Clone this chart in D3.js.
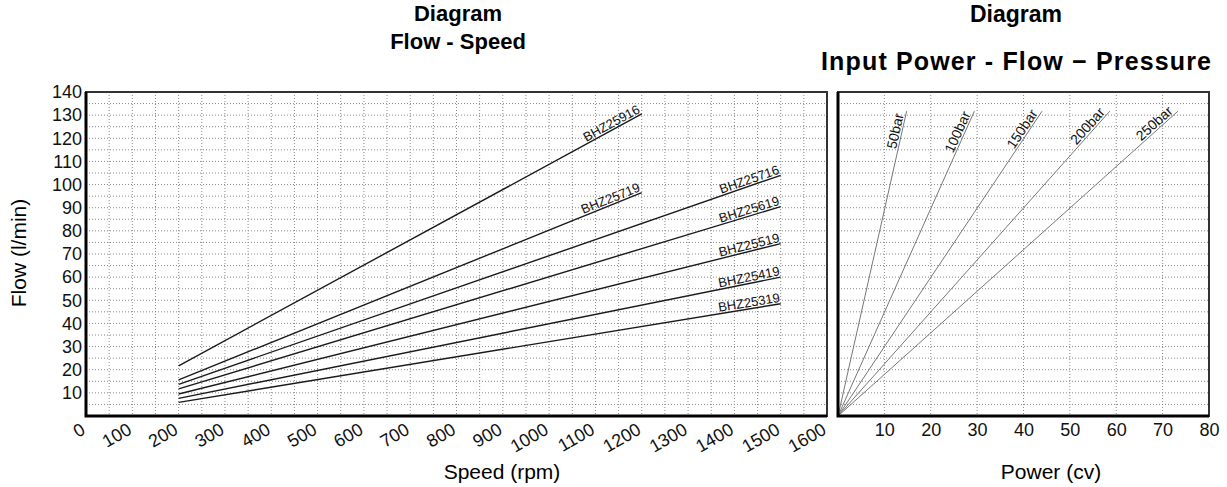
<!DOCTYPE html>
<html>
<head>
<meta charset="utf-8">
<script src="https://cdn.jsdelivr.net/npm/d3@7"></script>
<style>
body { margin: 0; background: #fff; }
svg { font-family: Arial, "Liberation Sans", sans-serif; }
.grid line { stroke: #8a8a8a; stroke-width: 1; stroke-dasharray: 1,2; }
.axis path, .axis line { display: none; }
</style>
</head>
<body>
<script>
// tick labels
var speedTicks = [0, 100, 200, 300, 400, 500, 600, 700, 800, 900, 1000, 1100, 1200, 1300, 1400, 1500, 1600];
var flowTicks = [10, 20, 30, 40, 50, 60, 70, 80, 90, 100, 110, 120, 130, 140];
var powerTicks = [10, 20, 30, 40, 50, 60, 70, 80];

// flow - speed curves (start / end points)
var pumpModels = ["BHZ25916", "BHZ25719", "BHZ25716", "BHZ25619", "BHZ25519", "BHZ25419", "BHZ25319"];
var pumpSpeeds = [[200, 1200], [200, 1200], [200, 1500], [200, 1500], [200, 1500], [200, 1500], [200, 1500]];
var pumpFlows = [[21.7, 130.5], [15.6, 96.5], [13.7, 104], [11.7, 90.5], [9.5, 74.5], [7.6, 60], [5.9, 48.5]];

// power - flow lines per pressure (from origin)
var pressureLabels = ["50bar", "100bar", "150bar", "200bar", "250bar"];
var pressurePower = [[0, 14.8], [0, 29.4], [0, 44.0], [0, 58.6], [0, 73.3]];
var pressureFlow = [[0, 131.7], [0, 131.7], [0, 131.7], [0, 131.7], [0, 131.7]];

var W = 1227, H = 487;
var plotTop = 92, plotBottom = 416;

var svg = d3.select("body").append("svg")
    .attr("width", W)
    .attr("height", H);

// scales
var x = d3.scaleLinear().domain([0, 1600]).range([86, 827]);
var y = d3.scaleLinear().domain([0, 140]).range([plotBottom, plotTop]);
var x2 = d3.scaleLinear().domain([0, 80]).range([838, 1209]);

// ---- left panel grid
var g1 = svg.append("g").attr("class", "grid");
g1.selectAll("line.v").data(d3.range(50, 1600, 50)).enter().append("line")
    .attr("class", "v")
    .attr("x1", function (d) { return x(d); }).attr("x2", function (d) { return x(d); })
    .attr("y1", plotTop).attr("y2", plotBottom);
g1.selectAll("line.h").data(d3.range(5, 140, 5)).enter().append("line")
    .attr("class", "h")
    .attr("x1", x(0)).attr("x2", x(1600))
    .attr("y1", function (d) { return y(d); }).attr("y2", function (d) { return y(d); });

// ---- right panel grid
var g2 = svg.append("g").attr("class", "grid");
g2.selectAll("line.v").data(d3.range(10, 80, 10)).enter().append("line")
    .attr("class", "v")
    .attr("x1", function (d) { return x2(d); }).attr("x2", function (d) { return x2(d); })
    .attr("y1", plotTop).attr("y2", plotBottom);
g2.selectAll("line.h").data(d3.range(5, 140, 5)).enter().append("line")
    .attr("class", "h")
    .attr("x1", x2(0)).attr("x2", x2(80))
    .attr("y1", function (d) { return y(d); }).attr("y2", function (d) { return y(d); });

// ---- flow - speed lines
var line = d3.line()
    .x(function (d) { return x(d[0]); })
    .y(function (d) { return y(d[1]); });

pumpModels.forEach(function (name, i) {
    var pts = [[pumpSpeeds[i][0], pumpFlows[i][0]], [pumpSpeeds[i][1], pumpFlows[i][1]]];
    svg.append("path")
        .attr("d", line(pts))
        .attr("fill", "none")
        .attr("stroke", "#1a1a1a")
        .attr("stroke-width", 1.4);
    var ex = x(pts[1][0]), ey = y(pts[1][1]);
    var ang = Math.atan2(ey - y(pts[0][1]), ex - x(pts[0][0])) * 180 / Math.PI;
    svg.append("text")
        .attr("transform", "translate(" + ex + "," + ey + ") rotate(" + ang + ")")
        .attr("dy", -2)
        .attr("text-anchor", "end")
        .style("font-size", "13px")
        .style("fill", "#111")
        .text(name);
});

// ---- power - flow lines
var line2 = d3.line()
    .x(function (d) { return x2(d[0]); })
    .y(function (d) { return y(d[1]); });

pressureLabels.forEach(function (name, i) {
    var pts = [[pressurePower[i][0], pressureFlow[i][0]], [pressurePower[i][1], pressureFlow[i][1]]];
    svg.append("path")
        .attr("d", line2(pts))
        .attr("fill", "none")
        .attr("stroke", "#777")
        .attr("stroke-width", 1);
    var ex = x2(pts[1][0]), ey = y(pts[1][1]);
    var ang = Math.atan2(ey - y(pts[0][1]), ex - x2(pts[0][0])) * 180 / Math.PI;
    svg.append("text")
        .attr("transform", "translate(" + ex + "," + ey + ") rotate(" + ang + ")")
        .attr("dx", -4)
        .attr("dy", -2)
        .attr("text-anchor", "end")
        .style("font-size", "14px")
        .style("fill", "#111")
        .text(name);
});

// ---- frames
function frame(x0, x1) {
    svg.append("rect")
        .attr("x", x0).attr("y", plotTop)
        .attr("width", x1 - x0).attr("height", plotBottom - plotTop)
        .attr("fill", "none")
        .attr("stroke", "#333")
        .attr("stroke-width", 2);
    svg.append("path")
        .attr("d", "M" + x0 + "," + plotTop + "V" + plotBottom + "H" + x1)
        .attr("fill", "none")
        .attr("stroke", "#000")
        .attr("stroke-width", 3);
}
frame(x(0), x(1600));
frame(x2(0), x2(80));

// ---- axes
function tickFont(sel) {
    sel.attr("font-family", null).attr("font-size", null);
    sel.selectAll("text")
        .style("font-family", "Arial, 'Liberation Sans', sans-serif")
        .style("font-size", "18px")
        .style("fill", "#111");
}

svg.append("g")
    .attr("class", "axis")
    .attr("transform", "translate(" + x(0) + ",0)")
    .call(d3.axisLeft(y).tickValues(flowTicks).tickSize(0).tickPadding(4))
    .call(tickFont);

svg.append("g")
    .attr("class", "axis")
    .attr("transform", "translate(0," + plotBottom + ")")
    .call(d3.axisBottom(x).tickValues(speedTicks).tickSize(0).tickFormat(d3.format("d")))
    .call(tickFont)
    .selectAll("text")
    .attr("x", 0).attr("y", 0).attr("dy", 0)
    .attr("transform", "translate(0,17) rotate(-30)")
    .style("text-anchor", "end");

svg.append("g")
    .attr("class", "axis")
    .attr("transform", "translate(0," + plotBottom + ")")
    .call(d3.axisBottom(x2).tickValues(powerTicks).tickSize(0).tickPadding(7))
    .call(tickFont);

// ---- axis titles
svg.append("text")
    .attr("transform", "translate(26,253) rotate(-90)")
    .attr("text-anchor", "middle")
    .style("font-size", "21px")
    .text("Flow (l/min)");

svg.append("text")
    .attr("x", 502).attr("y", 479)
    .attr("text-anchor", "middle")
    .style("font-size", "21px")
    .text("Speed (rpm)");

svg.append("text")
    .attr("x", 1051).attr("y", 479)
    .attr("text-anchor", "middle")
    .style("font-size", "21px")
    .text("Power (cv)");

// ---- titles
function title(cx, lines, ys, sizes, len) {
    lines.forEach(function (t, i) {
        var tx = svg.append("text")
            .attr("x", cx).attr("y", ys[i])
            .attr("text-anchor", "middle")
            .style("font-size", sizes[i] + "px")
            .style("font-weight", "bold")
            .text(t);
        if (len && len[i]) tx.attr("textLength", len[i]).attr("lengthAdjust", "spacing");
    });
}
title(458, ["Diagram", "Flow - Speed"], [21, 49], [22, 22]);
title(1016, ["Diagram", "Input Power - Flow \u2212 Pressure"], [22, 70], [23, 25], [0, 390]);
</script>
</body>
</html>
